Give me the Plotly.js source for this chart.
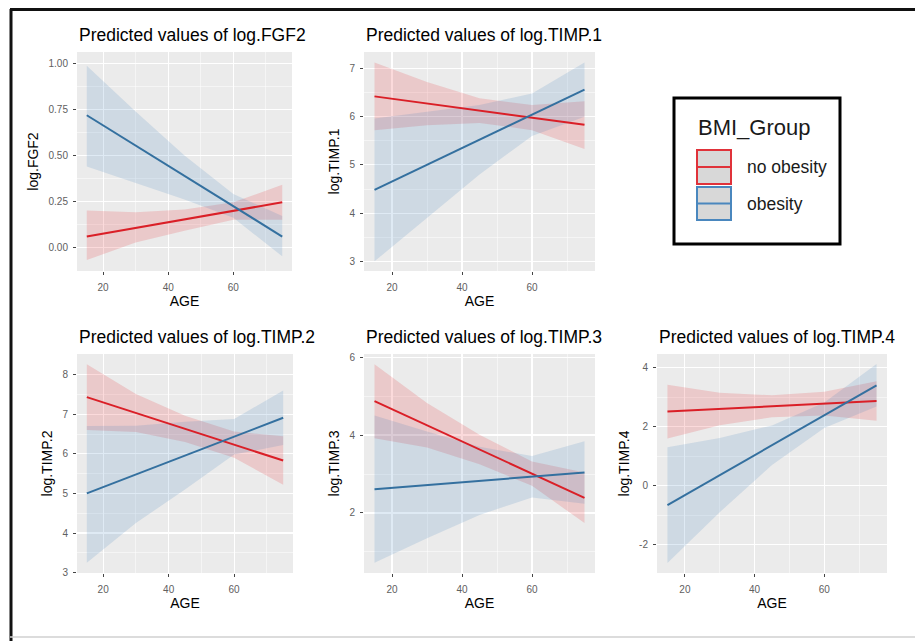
<!DOCTYPE html>
<html>
<head>
<meta charset="utf-8">
<script src="https://cdn.plot.ly/plotly-3.0.1.min.js"></script>
<style>
  html, body { margin: 0; padding: 0; background: #ffffff; }
  #chart { width: 915px; height: 641px; }
</style>
</head>
<body>
<div id="chart"></div>
<script>
// ---------------- data ----------------
const AGE = [15, 30, 45, 60, 75];
const GROUPS = ["no obesity", "obesity"];
const PANEL_TITLES = ["Predicted values of log.FGF2", "Predicted values of log.TIMP.1",
  "Predicted values of log.TIMP.2", "Predicted values of log.TIMP.3", "Predicted values of log.TIMP.4"];
const Y_TITLES = ["log.FGF2", "log.TIMP.1", "log.TIMP.2", "log.TIMP.3", "log.TIMP.4"];
const X_TITLE = "AGE";
const LEGEND_TITLE = "BMI_Group";

// log.FGF2
const fgf2_noob_fit = [0.058, 0.105, 0.152, 0.198, 0.245];
const fgf2_noob_lo  = [-0.07, 0.025, 0.09, 0.15, 0.15];
const fgf2_noob_hi  = [0.20, 0.19, 0.205, 0.245, 0.34];
const fgf2_ob_fit   = [0.72, 0.555, 0.39, 0.224, 0.058];
const fgf2_ob_lo    = [0.44, 0.35, 0.26, 0.16, -0.05];
const fgf2_ob_hi    = [0.99, 0.74, 0.50, 0.29, 0.17];

// log.TIMP.1
const timp1_noob_fit = [6.42, 6.27, 6.125, 5.98, 5.83];
const timp1_noob_lo  = [5.72, 5.82, 5.87, 5.72, 5.33];
const timp1_noob_hi  = [7.12, 6.72, 6.38, 6.24, 6.32];
const timp1_ob_fit   = [4.48, 5.0, 5.52, 6.04, 6.56];
const timp1_ob_lo    = [3.0, 3.9, 4.8, 5.6, 6.0];
const timp1_ob_hi    = [5.96, 6.1, 6.24, 6.48, 7.12];

// log.TIMP.2
const timp2_noob_fit = [7.43, 7.03, 6.63, 6.23, 5.83];
const timp2_noob_lo  = [6.6, 6.55, 6.3, 5.9, 5.22];
const timp2_noob_hi  = [8.26, 7.51, 6.96, 6.56, 6.44];
const timp2_ob_fit   = [5.0, 5.48, 5.955, 6.43, 6.91];
const timp2_ob_lo    = [3.25, 4.25, 5.1, 5.98, 6.22];
const timp2_ob_hi    = [6.7, 6.71, 6.81, 6.88, 7.6];

// log.TIMP.3
const timp3_noob_fit = [4.87, 4.25, 3.63, 3.01, 2.39];
const timp3_noob_lo  = [3.92, 3.68, 3.25, 2.7, 1.74];
const timp3_noob_hi  = [5.82, 4.82, 4.01, 3.32, 3.04];
const timp3_ob_fit   = [2.61, 2.72, 2.825, 2.93, 3.04];
const timp3_ob_lo    = [0.72, 1.35, 1.95, 2.4, 2.24];
const timp3_ob_hi    = [4.5, 4.09, 3.7, 3.46, 3.84];

// log.TIMP.4
const timp4_noob_fit = [2.51, 2.6, 2.69, 2.78, 2.87];
const timp4_noob_lo  = [1.6, 2.05, 2.32, 2.38, 2.2];
const timp4_noob_hi  = [3.42, 3.15, 3.06, 3.18, 3.54];
const timp4_ob_fit   = [-0.66, 0.355, 1.37, 2.385, 3.4];
const timp4_ob_lo    = [-2.62, -0.9, 0.7, 1.95, 2.68];
const timp4_ob_hi    = [1.3, 1.61, 2.04, 2.82, 4.12];

// tick labels
const X_TICKS = [20, 40, 60];
const FGF2_TICKS = [0, 0.25, 0.5, 0.75, 1.0];
const FGF2_TICKTEXT = ["0.00", "0.25", "0.50", "0.75", "1.00"];
const TIMP1_TICKS = [3, 4, 5, 6, 7];
const TIMP2_TICKS = [3, 4, 5, 6, 7, 8];
const TIMP3_TICKS = [2, 4, 6];
const TIMP4_TICKS = [-2, 0, 2, 4];
const TIMP4_TICKTEXT = ["-2", "0", "2", "4"];

// ---------------- styling ----------------
const W = 915, H = 641;
const RED = "#DA1F27", BLUE = "#34709F";
const KEY_RED = "#E0323A", KEY_BLUE = "#4A87BE";
const RED_FILL = "rgba(228,26,28,0.16)", BLUE_FILL = "rgba(55,126,184,0.16)";
const FONT = "Liberation Sans, Arial, sans-serif";

const panels = [
  {data: [fgf2_noob_lo, fgf2_noob_hi, fgf2_noob_fit, fgf2_ob_lo, fgf2_ob_hi, fgf2_ob_fit],
   px: [77, 292], py: [52, 271], yr: [-0.13, 1.065], ticks: FGF2_TICKS, ticktext: FGF2_TICKTEXT, minor: 0.125},
  {data: [timp1_noob_lo, timp1_noob_hi, timp1_noob_fit, timp1_ob_lo, timp1_ob_hi, timp1_ob_fit],
   px: [364, 595], py: [52, 271], yr: [2.8, 7.34], ticks: TIMP1_TICKS, minor: 0.5},
  {data: [timp2_noob_lo, timp2_noob_hi, timp2_noob_fit, timp2_ob_lo, timp2_ob_hi, timp2_ob_fit],
   px: [77, 293], py: [354, 573], yr: [2.99, 8.52], ticks: TIMP2_TICKS, minor: 0.5},
  {data: [timp3_noob_lo, timp3_noob_hi, timp3_noob_fit, timp3_ob_lo, timp3_ob_hi, timp3_ob_fit],
   px: [364, 595], py: [354, 573], yr: [0.46, 6.08], ticks: TIMP3_TICKS, minor: 1},
  {data: [timp4_noob_lo, timp4_noob_hi, timp4_noob_fit, timp4_ob_lo, timp4_ob_hi, timp4_ob_fit],
   px: [657, 887], py: [354, 573], yr: [-2.96, 4.46], ticks: TIMP4_TICKS, ticktext: TIMP4_TICKTEXT, minor: 1}
];

const traces = [];
const layout = {
  width: W, height: H,
  margin: {l: 0, r: 0, t: 0, b: 0},
  paper_bgcolor: "#ffffff",
  plot_bgcolor: "#EBEBEB",
  showlegend: false,
  font: {family: FONT, color: "#000000"},
  annotations: [],
  shapes: []
};

panels.forEach((p, i) => {
  const n = i + 1;
  const xa = "x" + (n === 1 ? "" : n), ya = "y" + (n === 1 ? "" : n);
  const xk = "xaxis" + (n === 1 ? "" : n), yk = "yaxis" + (n === 1 ? "" : n);
  const d = p.data;
  // ribbons first
  [[d[0], d[1], RED_FILL], [d[3], d[4], BLUE_FILL]].forEach(r => {
    traces.push({x: AGE, y: r[0], xaxis: xa, yaxis: ya, mode: "lines",
      line: {width: 0, color: "rgba(0,0,0,0)"}, hoverinfo: "skip", showlegend: false});
    traces.push({x: AGE, y: r[1], xaxis: xa, yaxis: ya, mode: "lines", fill: "tonexty",
      fillcolor: r[2], line: {width: 0, color: "rgba(0,0,0,0)"}, hoverinfo: "skip", showlegend: false});
  });
  // fitted lines
  traces.push({x: AGE, y: d[2], xaxis: xa, yaxis: ya, mode: "lines", name: GROUPS[0],
    line: {color: RED, width: 2}, showlegend: false});
  traces.push({x: AGE, y: d[5], xaxis: xa, yaxis: ya, mode: "lines", name: GROUPS[1],
    line: {color: BLUE, width: 2}, showlegend: false});

  layout[xk] = {
    domain: [p.px[0] / W, p.px[1] / W], anchor: ya, range: [12, 78],
    tickmode: "array", tickvals: X_TICKS,
    ticks: "outside", ticklen: 3, tickwidth: 1, tickcolor: "#444444", ticklabelstandoff: 4,
    tickfont: {size: 10, color: "#606060", family: FONT},
    showgrid: true, gridcolor: "#ffffff", gridwidth: 1.1,
    minor: {dtick: 10, tick0: 0, showgrid: true, gridcolor: "#ffffff", gridwidth: 0.5, ticks: ""},
    zeroline: false, showline: false, fixedrange: true,
    title: {text: X_TITLE, font: {size: 14, color: "#000000", family: FONT}, standoff: 4}
  };
  layout[yk] = {
    domain: [1 - p.py[1] / H, 1 - p.py[0] / H], anchor: xa, range: p.yr,
    tickmode: "array", tickvals: p.ticks, ticktext: p.ticktext,
    ticks: "outside", ticklen: 3, tickwidth: 1, tickcolor: "#444444", ticklabelstandoff: 3,
    tickfont: {size: 10, color: "#606060", family: FONT},
    showgrid: true, gridcolor: "#ffffff", gridwidth: 1.1,
    minor: {dtick: p.minor, tick0: 0, showgrid: true, gridcolor: "#ffffff", gridwidth: 0.5, ticks: ""},
    zeroline: false, showline: false, fixedrange: true,
    title: {text: Y_TITLES[i], font: {size: 14, color: "#000000", family: FONT}, standoff: 6}
  };
  layout.annotations.push({
    text: PANEL_TITLES[i], xref: "paper", yref: "paper",
    x: p.px[0] / W, xanchor: "left", y: 1 - (p.py[0] - 17) / H, yanchor: "middle",
    showarrow: false, font: {size: 17.5, color: "#000000", family: FONT}
  });
});

// outer frame of the figure
layout.shapes.push({type: "line", xref: "paper", yref: "paper", x0: 11 / W, x1: 11 / W, y0: 0, y1: 1 - 9 / H,
  line: {color: "#111111", width: 3}});
layout.shapes.push({type: "line", xref: "paper", yref: "paper", x0: 10 / W, x1: 1, y0: 1 - 9.5 / H, y1: 1 - 9.5 / H,
  line: {color: "#111111", width: 3}});
layout.shapes.push({type: "line", xref: "paper", yref: "paper", x0: 10 / W, x1: 1, y0: 1 - 637 / H, y1: 1 - 637 / H,
  line: {color: "#d0d0d0", width: 1.5}});

// legend (ggplot-style keys)
const LG = {x0: 674, x1: 840, y0: 98, y1: 244};
layout.shapes.push({type: "rect", xref: "paper", yref: "paper",
  x0: LG.x0 / W, x1: LG.x1 / W, y0: 1 - LG.y1 / H, y1: 1 - LG.y0 / H,
  fillcolor: "#ffffff", line: {color: "#000000", width: 3}});
layout.annotations.push({text: LEGEND_TITLE, xref: "paper", yref: "paper", x: 696 / W, xanchor: "left",
  y: 1 - 127 / H, yanchor: "middle", showarrow: false, font: {size: 22, color: "#1a1a1a", family: FONT}});
const keyRows = [{y0: 150, y1: 184, color: KEY_RED, label: GROUPS[0]}, {y0: 187, y1: 220, color: KEY_BLUE, label: GROUPS[1]}];
keyRows.forEach(k => {
  layout.shapes.push({type: "rect", xref: "paper", yref: "paper", x0: 697 / W, x1: 731 / W,
    y0: 1 - k.y1 / H, y1: 1 - k.y0 / H, fillcolor: "#D8D8D8", line: {color: k.color, width: 2}});
  const ym = (k.y0 + k.y1) / 2;
  layout.shapes.push({type: "line", xref: "paper", yref: "paper", x0: 697 / W, x1: 731 / W,
    y0: 1 - ym / H, y1: 1 - ym / H, line: {color: k.color, width: 2}});
  layout.annotations.push({text: k.label, xref: "paper", yref: "paper", x: 745 / W, xanchor: "left",
    y: 1 - ym / H, yanchor: "middle", showarrow: false, font: {size: 17.5, color: "#1a1a1a", family: FONT}});
});

Plotly.newPlot("chart", traces, layout, {staticPlot: true, displayModeBar: false});
</script>
</body>
</html>
